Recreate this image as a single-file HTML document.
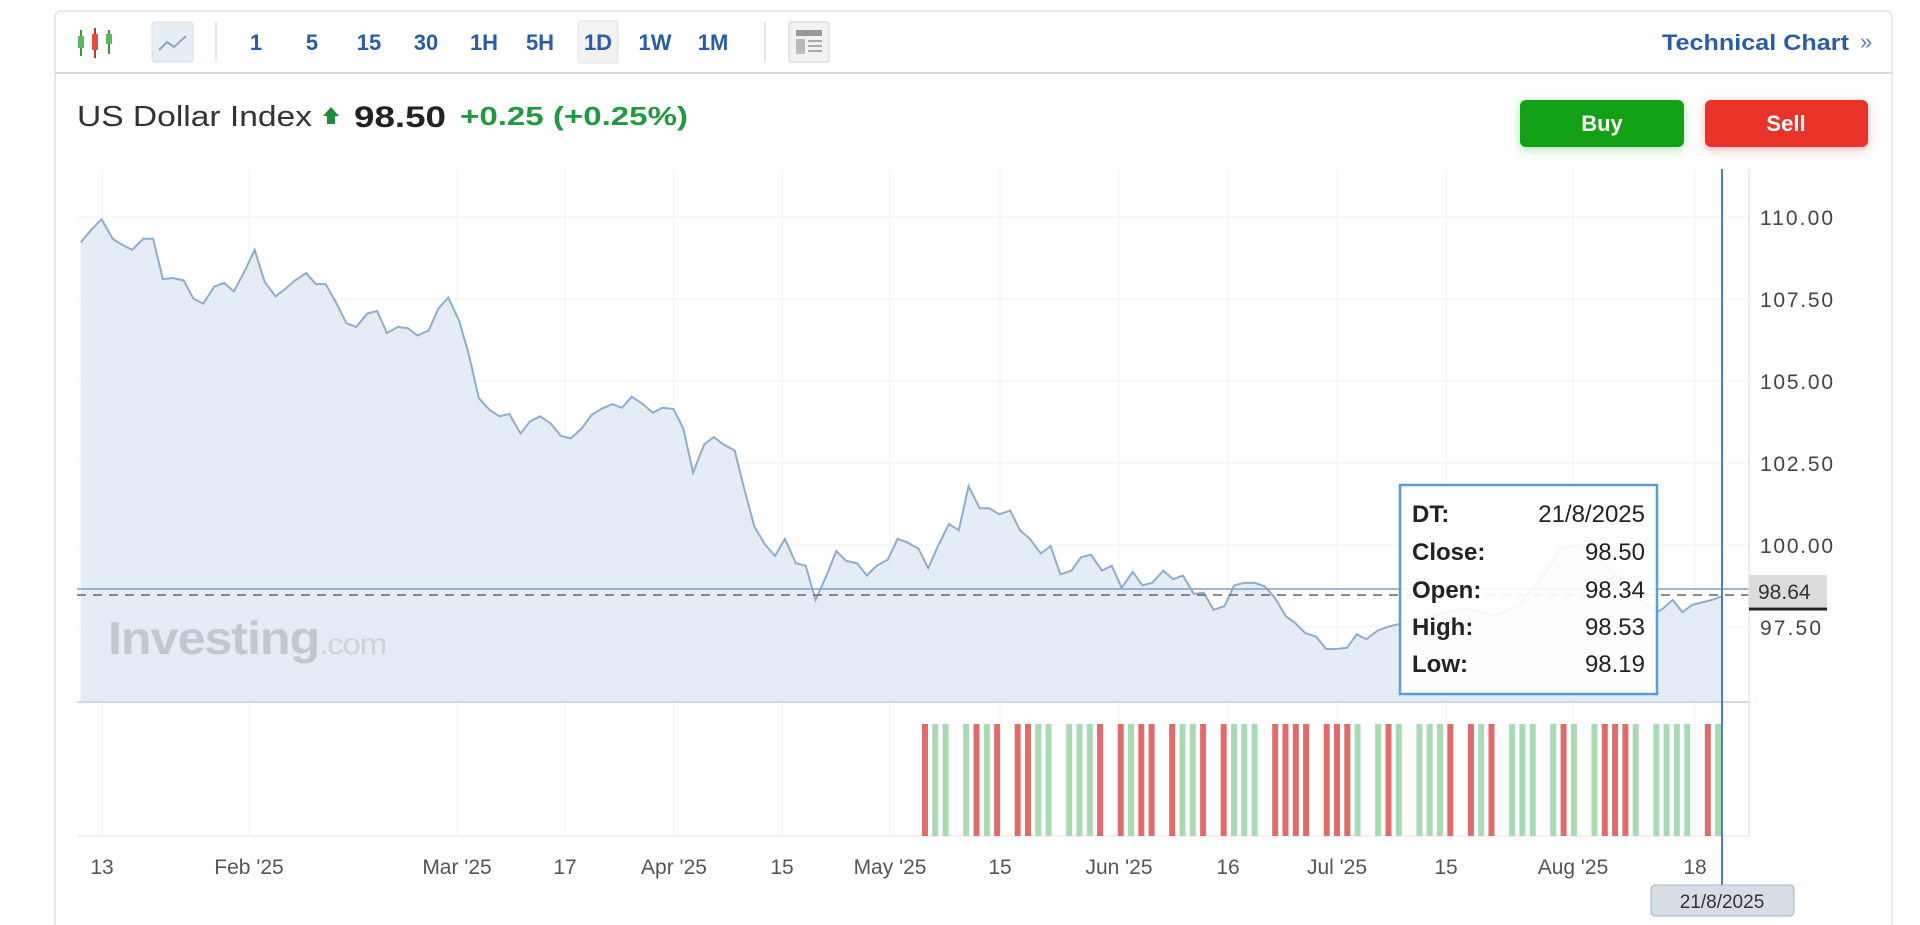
<!DOCTYPE html>
<html><head><meta charset="utf-8">
<style>
html,body{margin:0;padding:0;background:#fff;width:1920px;height:925px;overflow:hidden;font-family:"Liberation Sans",sans-serif}
svg{position:absolute;left:0;top:0}
</style></head>
<body>
<svg id="s" width="1920" height="925" viewBox="0 0 1920 925" xmlns="http://www.w3.org/2000/svg" font-family="Liberation Sans, sans-serif">
<rect x="55" y="11" width="1837" height="930" rx="6" fill="#fff" stroke="#e2e2e2" stroke-width="1.5"/>
<line x1="55" y1="73" x2="1892" y2="73" stroke="#d8d8d8" stroke-width="2"/>
<g>
<line x1="81" y1="30" x2="81" y2="56" stroke="#3a9a3a" stroke-width="2"/><rect x="78" y="36" width="6" height="12" fill="#5cb85c"/>
<line x1="95" y1="28" x2="95" y2="58" stroke="#c0392b" stroke-width="2"/><rect x="92" y="34" width="6" height="16" fill="#e74c3c"/>
<line x1="109" y1="30" x2="109" y2="54" stroke="#3a9a3a" stroke-width="2"/><rect x="106" y="34" width="6" height="10" fill="#5cb85c"/>
<rect x="152" y="22" width="41" height="40" rx="3" fill="#e8eef6" stroke="#d6dde6"/>
<polyline points="159,50 167,42 174,47 186,36" fill="none" stroke="#8aa7c6" stroke-width="2"/>
<line x1="216" y1="22" x2="216" y2="62" stroke="#ddd" stroke-width="1.5"/>
<rect x="578" y="21" width="40" height="42" rx="3" fill="#f2f2f2" stroke="#e2e2e2"/>
<g fill="#2a5ca8" font-size="22" font-weight="bold" text-anchor="middle">
<text x="256" y="50">1</text><text x="312" y="50">5</text><text x="369" y="50">15</text><text x="426" y="50">30</text><text x="484" y="50">1H</text><text x="540" y="50">5H</text><text x="598" y="50">1D</text><text x="655" y="50">1W</text><text x="713" y="50">1M</text>
</g>
<line x1="765" y1="22" x2="765" y2="62" stroke="#ddd" stroke-width="1.5"/>
<rect x="789" y="22" width="40" height="40" rx="3" fill="#f2f2f2" stroke="#d0d0d0"/>
<rect x="796" y="30" width="26" height="6" fill="#999"/>
<rect x="796" y="39" width="9" height="15" fill="#bbb"/>
<g stroke="#aaa" stroke-width="2"><line x1="808" y1="41" x2="822" y2="41"/><line x1="808" y1="46" x2="822" y2="46"/><line x1="808" y1="51" x2="822" y2="51"/></g>
<text x="1662" y="50" fill="#2a5ca8" font-size="22" font-weight="bold" textLength="187" lengthAdjust="spacingAndGlyphs">Technical Chart</text>
<text x="1860" y="49" fill="#5a82c0" font-size="22">»</text>
</g>
<text x="77" y="126" font-size="29" fill="#333" textLength="235" lengthAdjust="spacingAndGlyphs">US Dollar Index</text>
<polygon points="331,107 339,116 335,116 335,124 327,124 327,116 323,116" fill="#1f8a3a"/>
<text x="354" y="127" font-size="30" font-weight="bold" fill="#222" textLength="92" lengthAdjust="spacingAndGlyphs">98.50</text>
<text x="460" y="125" font-size="26" font-weight="bold" fill="#1f9a3f" textLength="228" lengthAdjust="spacingAndGlyphs">+0.25 (+0.25%)</text>
<rect x="1520" y="100" width="164" height="47" rx="6" fill="#12a017" style="filter:drop-shadow(0 3px 5px rgba(30,180,30,.35))"/>
<text x="1602" y="131" text-anchor="middle" fill="#fff" font-size="22" font-weight="bold">Buy</text>
<rect x="1705" y="100" width="163" height="47" rx="6" fill="#e8322a" style="filter:drop-shadow(0 3px 5px rgba(230,50,40,.35))"/>
<text x="1786" y="131" text-anchor="middle" fill="#fff" font-size="22" font-weight="bold">Sell</text>
<g id="grid" stroke="#f1f1f1" stroke-width="1"></g>
<g id="area"></g>
<text x="108" y="654" font-size="46" font-weight="bold" fill="#c3c8ce" letter-spacing="-1" textLength="278" lengthAdjust="spacingAndGlyphs">Investing<tspan font-size="30" font-weight="normal" fill="#cfd3d8">.com</tspan></text>
<line x1="77" y1="589" x2="1749" y2="589" stroke="#7fa1c4" stroke-width="1.5"/>
<line x1="77" y1="595" x2="1749" y2="595" stroke="#666" stroke-width="1.5" stroke-dasharray="9,7"/>
<line x1="77" y1="702" x2="1749" y2="702" stroke="#cfd8e2" stroke-width="2"/>
<line x1="77" y1="836" x2="1749" y2="836" stroke="#eee" stroke-width="1.5"/>
<line x1="1749" y1="169" x2="1749" y2="836" stroke="#e6e6e6" stroke-width="1.5"/>
<g id="vol"></g>
<g font-size="21" fill="#444">
<text x="1760" y="225" textLength="73">110.00</text><text x="1760" y="307" textLength="73">107.50</text><text x="1760" y="389" textLength="73">105.00</text><text x="1760" y="471" textLength="73">102.50</text><text x="1760" y="553" textLength="73">100.00</text><text x="1760" y="635" textLength="61">97.50</text>
</g>
<rect x="1749" y="575" width="78" height="32" fill="#dcdcdc"/>
<line x1="1749" y1="609" x2="1827" y2="609" stroke="#222" stroke-width="3"/>
<text x="1758" y="599" font-size="21" fill="#333">98.64</text>
<g font-size="21" fill="#555" text-anchor="middle">
<text x="102" y="874">13</text><text x="249" y="874">Feb '25</text><text x="457" y="874">Mar '25</text><text x="565" y="874">17</text><text x="674" y="874">Apr '25</text><text x="782" y="874">15</text><text x="890" y="874">May '25</text><text x="1000" y="874">15</text><text x="1119" y="874">Jun '25</text><text x="1228" y="874">16</text><text x="1337" y="874">Jul '25</text><text x="1446" y="874">15</text><text x="1573" y="874">Aug '25</text><text x="1695" y="874">18</text>
</g>
<rect x="1400" y="485" width="257" height="209" fill="rgba(255,255,255,0.9)" stroke="#5a9bd8" stroke-width="2.5"/>
<g font-size="24" fill="#222">
<text x="1412" y="522" font-weight="bold">DT:</text><text x="1645" y="522" text-anchor="end">21/8/2025</text>
<text x="1412" y="560" font-weight="bold">Close:</text><text x="1645" y="560" text-anchor="end">98.50</text>
<text x="1412" y="598" font-weight="bold">Open:</text><text x="1645" y="598" text-anchor="end">98.34</text>
<text x="1412" y="635" font-weight="bold">High:</text><text x="1645" y="635" text-anchor="end">98.53</text>
<text x="1412" y="672" font-weight="bold">Low:</text><text x="1645" y="672" text-anchor="end">98.19</text>
</g>
<line x1="1722" y1="169" x2="1722" y2="886" stroke="#4f7fb5" stroke-width="2"/>
<rect x="1651" y="885" width="143" height="31" rx="4" fill="#d7dde5" stroke="#9fb3cc"/>
<text x="1722" y="908" text-anchor="middle" font-size="19" fill="#333">21/8/2025</text>
</svg>
<script>
var S=1920/1568,ns="http://www.w3.org/2000/svg";
function el(p,t,a){var e=document.createElementNS(ns,t);for(var k in a)e.setAttribute(k,a[k]);document.getElementById(p).appendChild(e);return e;}
[102,249,457,565,674,782,890,1000,1119,1228,1337,1446,1573,1695].forEach(function(x){el('grid','line',{x1:x,y1:169,x2:x,y2:836});});
[217,299,381,463,545,627].forEach(function(y){el('grid','line',{x1:77,y1:y,x2:1749,y2:y});});
var d=[[66,198],[75,187],[83,179],[92,195],[100,200],[108,204],[117,195],[125,195],[133,228],[141,227],[150,229],[158,244],[166,248],[175,234],[183,231],[191,238],[200,221],[208,204],[216,230],[225,242],[233,236],[241,229],[250,223],[258,232],[266,232],[275,248],[283,264],[291,267],[300,256],[308,254],[316,272],[325,267],[333,268],[341,274],[350,270],[358,252],[366,243],[375,262],[383,290],[391,325],[400,335],[408,340],[416,338],[425,354],[433,344],[441,340],[450,346],[458,356],[466,358],[475,350],[483,339],[491,334],[500,330],[508,333],[516,324],[525,330],[533,337],[541,333],[550,334],[558,350],[566,386],[575,363],[583,357],[591,363],[600,368],[608,400],[616,430],[625,445],[633,454],[641,440],[650,460],[658,462],[666,490],[675,470],[683,450],[691,458],[700,460],[708,470],[716,462],[725,457],[733,440],[741,443],[750,448],[758,464],[766,446],[775,428],[783,433],[791,397],[800,415],[808,415],[816,420],[825,417],[833,433],[841,440],[850,452],[858,446],[866,469],[875,466],[883,455],[891,453],[900,466],[908,462],[916,480],[925,467],[933,478],[941,476],[950,466],[958,473],[966,470],[975,485],[983,484],[991,498],[1000,495],[1008,478],[1016,476],[1025,476],[1033,479],[1041,488],[1050,503],[1058,509],[1066,517],[1075,520],[1083,530],[1091,530],[1100,529],[1108,518],[1116,522],[1125,515],[1133,512],[1141,510],[1160,505],[1180,500],[1200,497],[1220,503],[1240,495],[1260,470],[1275,448],[1290,445],[1305,455],[1320,470],[1340,490],[1353,500],[1358,497],[1366,490],[1374,500],[1382,494],[1390,492],[1398,490],[1406,487]];
var pts=d.map(function(p){return (p[0]*S).toFixed(1)+','+(p[1]*S).toFixed(1);});
el('area','polygon',{points:(66*S).toFixed(1)+',702 '+pts.join(' ')+' '+(1406*S).toFixed(1)+',702',fill:'#e4ecf5'});
el('area','polyline',{points:pts.join(' '),fill:'none',stroke:'#8eadcd','stroke-width':2});
var pat="RGG_GRGR_RRGG_GGGR_RGRR_RGGR_RGGG_RRRR_RRRG_GRG_GGGR_RGR_GGG_GRG_GRRRG_GGGG_RGRG_GRRR_GGR";
var x=922;for(var i=0;i<pat.length;i++){var c=pat[i];if(c!='_'){el('vol','rect',{x:x.toFixed(1),y:724,width:6,height:112,fill:c=='R'?'#e06b6b':'#a9dab4'});}x+=10.3;if(x>1716)break;}
</script>
</body></html>
